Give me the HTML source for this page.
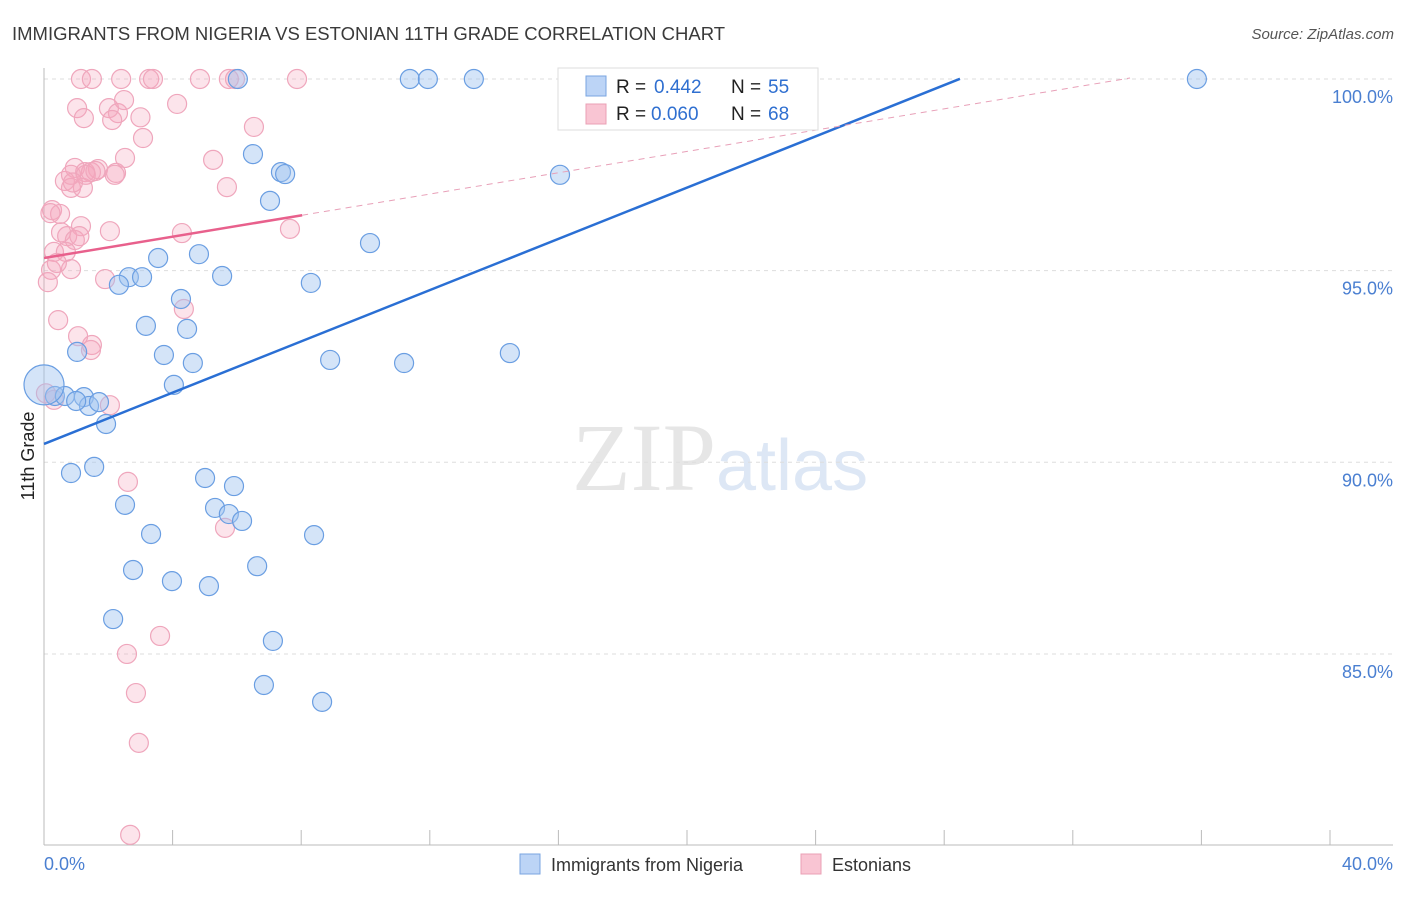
<!DOCTYPE html>
<html><head><meta charset="utf-8"><style>
body{margin:0;background:#fff;font-family:"Liberation Sans",sans-serif;}
</style></head><body>
<svg id="c" width="1406" height="892" xmlns="http://www.w3.org/2000/svg">
<text x="12" y="40" font-size="18.5" fill="#3a3a3a">IMMIGRANTS FROM NIGERIA VS ESTONIAN 11TH GRADE CORRELATION CHART</text>
<text x="1394" y="39" font-size="15" fill="#555" font-style="italic" text-anchor="end">Source: ZipAtlas.com</text>
<text x="716" y="490" font-size="96" fill="#e6e6e6" text-anchor="end" font-family="Liberation Serif">ZIP</text>
<text x="716" y="490" font-size="72" fill="#dde7f5">atlas</text>
<g id="grid"></g>
<line x1="44" y1="68" x2="44" y2="845" stroke="#bbb"/>
<line x1="44" y1="845" x2="1393" y2="845" stroke="#bbb"/>
<g id="pts"></g>
<g id="lines"></g>
<text transform="translate(34,456) rotate(-90)" font-size="18" fill="#222" text-anchor="middle">11th Grade</text>
<text x="44" y="870" font-size="18" fill="#4a7fd1">0.0%</text>
<text x="1393" y="870" font-size="18" fill="#4a7fd1" text-anchor="end">40.0%</text>
<g>
<rect x="558" y="68" width="260" height="62" fill="#fff" stroke="#ddd"/>
<rect x="586" y="76" width="20" height="20" fill="#bcd4f6" stroke="#7aa5e0"/>
<rect x="586" y="104" width="20" height="20" fill="#f9c5d3" stroke="#eaa0b5"/>
<text x="616" y="93" font-size="19" fill="#222">R =</text>
<text x="654" y="93" font-size="19" fill="#2f6fd0">0.442</text>
<text x="731" y="93" font-size="19" fill="#222">N =</text>
<text x="768" y="93" font-size="19" fill="#2f6fd0">55</text>
<text x="616" y="120" font-size="19" fill="#222">R =</text>
<text x="651" y="120" font-size="19" fill="#2f6fd0">0.060</text>
<text x="731" y="120" font-size="19" fill="#222">N =</text>
<text x="768" y="120" font-size="19" fill="#2f6fd0">68</text>
</g>
<g>
<rect x="520" y="854" width="20" height="20" fill="#bcd4f6" stroke="#7aa5e0"/>
<text x="551" y="871" font-size="18" fill="#333">Immigrants from Nigeria</text>
<rect x="801" y="854" width="20" height="20" fill="#f9c5d3" stroke="#eaa0b5"/>
<text x="832" y="871" font-size="18" fill="#333">Estonians</text>
</g>
</svg>
<script>
const yTicks=[100,95,90,85];
const yTickLabels=["100.0%","95.0%","90.0%","85.0%"];
const xTicks=[0,4,8,12,16,20,24,28,32,36,40];
const blueX=[6.03,11.38,11.94,13.37,16.67,35.86,6.5,7.37,7.5,7.03,16.05,10.14,3.55,4.82,2.64,3.05,2.33,5.54,8.3,4.26,3.17,4.45,3.73,4.63,1.03,8.9,11.2,14.49,4.04,0.34,0.65,1.24,1.4,1.71,1.93,0.84,1.56,5.01,5.91,2.52,5.32,5.75,6.16,3.33,8.4,2.77,3.98,5.13,6.63,2.15,7.12,6.84,8.65,0.0,1.0];
const blueY=[100,100,100,100,100,100,98.04,97.57,97.52,96.82,97.5,95.72,95.33,95.43,94.83,94.83,94.63,94.86,94.68,94.26,93.56,93.48,92.8,92.59,92.88,92.67,92.59,92.85,92.02,91.73,91.73,91.7,91.47,91.57,91.0,89.72,89.88,89.59,89.38,88.89,88.81,88.65,88.47,88.13,88.1,87.19,86.9,86.77,87.29,85.91,85.34,84.19,83.75,92.02,91.6];
const pinkX=[1.15,1.49,2.4,3.27,3.39,4.85,5.75,5.94,7.87,1.03,1.24,2.02,2.3,2.12,2.49,4.14,6.53,3.08,2.52,5.26,5.69,0.96,1.68,1.28,1.46,0.65,0.84,1.21,0.84,2.24,0.25,0.5,1.15,2.05,0.53,0.72,0.96,4.29,7.65,0.31,0.68,0.22,0.84,0.12,1.9,0.44,1.06,1.49,1.46,4.35,2.05,0.31,0.06,2.61,5.63,3.61,2.58,2.86,2.95,2.68,1.3,0.9,0.2,1.6,2.2,3.0,0.4,1.1];
const pinkY=[100,100,100,100,100,100,100,100,100,99.24,98.98,99.24,99.11,98.93,99.45,99.35,98.75,98.46,97.94,97.89,97.18,97.68,97.65,97.57,97.57,97.34,97.16,97.16,97.5,97.55,96.58,96.48,96.16,96.03,96.0,95.9,95.8,95.98,96.09,95.49,95.49,95.02,95.04,94.7,94.78,93.71,93.29,93.06,92.93,94.0,91.49,91.63,91.8,89.49,88.29,85.47,85.0,83.98,82.68,80.28,97.5,97.3,96.5,97.6,97.5,99.0,95.2,95.9];
const blueTrend=[90.48,0.3343,0,28.49];
const pinkTrend=[95.33,0.139,0,8.03,33.78];
const X=v=>44+v*32.15, Y=v=>79+(100-v)*38.33;
const NS="http://www.w3.org/2000/svg";
function mk(t,a,p){const e=document.createElementNS(NS,t);for(const k in a)e.setAttribute(k,a[k]);p.appendChild(e);return e;}
const grid=document.getElementById('grid');
yTicks.forEach((t,i)=>{
  const l=mk('line',{x1:44,x2:1393,y1:Y(t),y2:Y(t),stroke:'#ddd','stroke-dasharray':'4,4'},grid);
  
  
  const tx=mk('text',{x:1393,y:Y(t)+24,'font-size':18,fill:'#4a7fd1','text-anchor':'end'},grid);
  tx.textContent=yTickLabels[i];
  
  
});
xTicks.forEach(t=>{
  const l=mk('line',{x1:X(t),x2:X(t),y1:830,y2:845,stroke:'#bbb'},grid);
  
  
});
const pts=document.getElementById('pts');
pinkX.forEach((x,i)=>{
  const c=mk('circle',{cx:X(x),cy:Y(pinkY[i]),r:9.5,fill:'rgba(245,165,190,0.3)',stroke:'#efa6bc','stroke-width':1.2},pts);
  
  
});
blueX.forEach((x,i)=>{
  const c=mk('circle',{cx:X(x),cy:Y(blueY[i]),r:i==blueX.length-2?20:9.5,fill:'rgba(160,196,240,0.45)',stroke:'#6a9ee2','stroke-width':1.2},pts);
  
  
});
const ln=document.getElementById('lines');
let b=mk('line',{x1:X(blueTrend[2]),y1:Y(blueTrend[0]+blueTrend[1]*blueTrend[2]),x2:X(blueTrend[3]),y2:Y(blueTrend[0]+blueTrend[1]*blueTrend[3]),stroke:'#2a6fd4','stroke-width':2.5},ln);


let p=mk('line',{x1:X(pinkTrend[2]),y1:Y(pinkTrend[0]),x2:X(pinkTrend[3]),y2:Y(pinkTrend[0]+pinkTrend[1]*pinkTrend[3]),stroke:'#e8608c','stroke-width':2.5},ln);


let pd=mk('line',{x1:X(pinkTrend[3]),y1:Y(pinkTrend[0]+pinkTrend[1]*pinkTrend[3]),x2:X(pinkTrend[4]),y2:Y(pinkTrend[0]+pinkTrend[1]*pinkTrend[4]),stroke:'#e8a0b8','stroke-width':1,'stroke-dasharray':'6,5'},ln);


</script>
</body></html>
